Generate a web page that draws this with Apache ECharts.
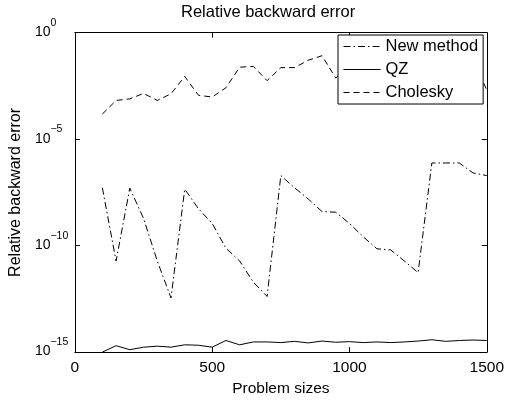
<!DOCTYPE html>
<html><head><meta charset="utf-8">
<script src="https://cdn.jsdelivr.net/npm/echarts@6/dist/echarts.min.js"></script>
<style>html,body{margin:0;padding:0;background:#fff}#c{width:507px;height:402px}</style>
</head><body><div id="c"></div>
<script>
const sizes = [100,150,200,250,300,350,400,450,500,550,600,650,700,750,800,850,900,950,1000,1050,1100,1150,1200,1250,1300,1350,1400,1450,1500];
const newMethod = [5.2e-8,1.9e-11,5.0e-8,1.9e-9,1.9e-11,3.5e-13,4.5e-8,5.4e-9,1.1e-9,7.6e-11,1.9e-11,1.9e-12,4.1e-13,1.95e-7,5.2e-8,1.55e-8,4.0e-9,3.7e-9,1.1e-9,2.6e-10,7.1e-11,6.3e-11,1.9e-11,5.4e-12,7.6e-7,7.6e-7,7.6e-7,2.6e-7,1.95e-7];
const qz = [1.0e-15,2.0e-15,1.3e-15,1.7e-15,1.9e-15,1.7e-15,2.2e-15,2.1e-15,1.7e-15,3.5e-15,2.2e-15,3.0e-15,3.0e-15,2.8e-15,3.2e-15,2.7e-15,3.3e-15,2.9e-15,3.1e-15,2.8e-15,3.0e-15,2.8e-15,3.0e-15,3.3e-15,3.8e-15,3.2e-15,3.5e-15,3.7e-15,3.5e-15];
const cholesky = [1.51e-4,6.6e-4,7.8e-4,1.41e-3,6.6e-4,1.35e-3,8.9e-3,1.15e-3,9.5e-4,2.6e-3,2.4e-2,2.6e-2,5.6e-3,2.3e-2,2.3e-2,5.1e-2,8.3e-2,7.4e-3,3.2e-2,5.0e-2,2.5e-2,4.0e-2,6.3e-2,3.2e-2,5.0e-2,2.5e-2,5.0e-2,6.3e-2,2.0e-3];
const xTicks = [0,500,1000,1500];
const titleText = 'Relative backward error';
const xName = 'Problem sizes';
const yName = 'Relative backward error';
const seriesNames = ['New method','QZ','Cholesky'];

const FONT = '"Liberation Sans", Arial, Helvetica, sans-serif';
const pairs = arr => sizes.map((s,i)=>[s,arr[i]]);
const expLabel = v => {
  const e = Math.round(Math.log10(v));
  const s = e < 0 ? '\u2212' + (-e) : String(e);
  return '{b|10}{e|' + s + '}';
};
const chart = echarts.init(document.getElementById('c'), null, {renderer:'canvas'});
const gridBox = {left:72.7, right:18, top:32.7, bottom:42};
const tick = {show:true, inside:true, length:5, lineStyle:{color:'#000', width:1}};
const line = {show:true, onZero:false, lineStyle:{color:'#000', width:1}};
chart.setOption({
  animation:false,
  backgroundColor:'#fff',
  textStyle:{fontFamily:FONT, color:'#000'},
  title:{text:titleText, left:176, top:-1, textStyle:{fontFamily:FONT, fontSize:16.5, fontWeight:'normal', color:'#000'}},
  grid:Object.assign({show:false, containLabel:false}, gridBox),
  legend:{
    left:338, top:35, orient:'vertical', padding:[3,5,3,5],
    itemWidth:37, itemHeight:14, itemGap:6,
    backgroundColor:'#fff', borderColor:'#000', borderWidth:1, borderRadius:0,
    itemStyle:{opacity:0, borderWidth:0},
    lineStyle:{width:1, color:'#000'},
    textStyle:{fontFamily:FONT, fontSize:16.5, color:'#000'},
    data:seriesNames
  },
  xAxis:[
    {type:'value', min:0, max:1500, interval:500, position:'bottom',
      axisLine:line, axisTick:tick, splitLine:{show:false},
      axisLabel:{show:true, margin:8, fontFamily:FONT, fontSize:15.5, color:'#000',
        formatter:v=>xTicks.includes(v)?String(v):''},
      name:xName, nameLocation:'middle', nameGap:24,
      nameTextStyle:{fontFamily:FONT, fontSize:15.5, color:'#000'}},
    {type:'value', min:0, max:1500, interval:500, position:'top',
      axisLine:line, axisTick:tick, splitLine:{show:false}, axisLabel:{show:false}}
  ],
  yAxis:[
    {type:'log', logBase:10, min:1e-15, max:1, interval:5, position:'left',
      axisLine:line, axisTick:tick, splitLine:{show:false}, minorTick:{show:false},
      axisLabel:{show:true, align:'left', margin:40, color:'#000', formatter:expLabel,
        padding:[0,0,9,0],
        rich:{b:{fontFamily:FONT, fontSize:14, color:'#000', verticalAlign:'bottom'},
              e:{fontFamily:FONT, fontSize:10.5, color:'#000', verticalAlign:'bottom', padding:[0,0,11,0]}}},
      name:yName, nameLocation:'middle', nameGap:45, nameRotate:90,
      nameTextStyle:{fontFamily:FONT, fontSize:16, color:'#000'}},
    {type:'log', logBase:10, min:1e-15, max:1, interval:5, position:'right',
      axisLine:line, axisTick:tick, splitLine:{show:false}, minorTick:{show:false},
      axisLabel:{show:false}}
  ],
  series:[
    {name:seriesNames[0], type:'line', data:pairs(newMethod), symbol:'none', xAxisIndex:0, yAxisIndex:0,
      lineStyle:{color:'#000', width:1, type:[7,3,1.5,3]}, itemStyle:{color:'#000'}},
    {name:seriesNames[1], type:'line', data:pairs(qz), symbol:'none', xAxisIndex:0, yAxisIndex:0,
      lineStyle:{color:'#000', width:1, type:'solid'}, itemStyle:{color:'#000'}},
    {name:seriesNames[2], type:'line', data:pairs(cholesky), symbol:'none', xAxisIndex:0, yAxisIndex:0,
      lineStyle:{color:'#000', width:1, type:[6,4]}, itemStyle:{color:'#000'}}
  ]
});
</script></body></html>
